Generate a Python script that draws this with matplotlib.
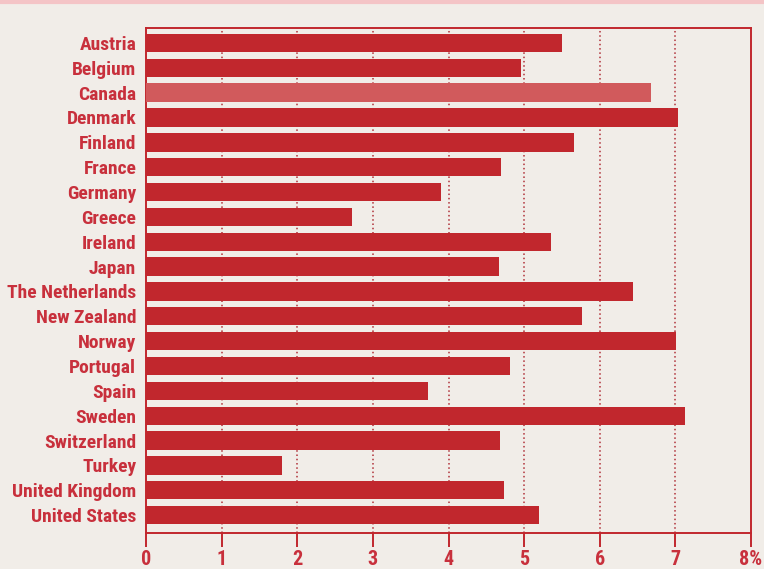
import matplotlib
matplotlib.use("Agg")
import matplotlib.pyplot as plt
import numpy as np


# Data

countries = ["Austria", "Belgium", "Canada", "Denmark", "Finland", "France",
             "Germany", "Greece", "Ireland", "Japan", "The Netherlands",
             "New Zealand", "Norway", "Portugal", "Spain", "Sweden",
             "Switzerland", "Turkey", "United Kingdom", "United States"]
values = [5.50, 4.96, 6.68, 7.04, 5.66, 4.70, 3.90, 2.72, 5.36, 4.67,
          6.44, 5.77, 7.01, 4.81, 3.73, 7.13, 4.68, 1.80, 4.74, 5.20]
highlight = "Canada"
xticks = [0, 1, 2, 3, 4, 5, 6, 7, 8]
xticklabels = ["0", "1", "2", "3", "4", "5", "6", "7", "8%"]


# Style

bg = "#f1ede8"
red = "#c1272d"
red_light = "#d15a5c"
txt = "#c8303c"
font = ["Roboto Condensed", "Liberation Sans Narrow", "DejaVu Sans"]


# Plot

fig = plt.figure(figsize=(7.64, 5.69), dpi=100, facecolor=bg)
ax = fig.add_axes([146/764, 1 - 533/569, 605/764, 505/569])
ax.set_facecolor(bg)

y = np.arange(len(countries))
colors = [red_light if c == highlight else red for c in countries]
ax.barh(y, values, height=0.74, color=colors, zorder=3)

ax.set_xlim(0, 8)
ax.set_ylim(19.72, -0.6)

for v in xticks[1:-1]:
    ax.axvline(v, color="#b03038", lw=1.1, ls=(0, (1, 1.8)), zorder=2)

ax.set_xticks(xticks)
ax.set_xticklabels(xticklabels, fontfamily=font, fontweight="bold",
                   fontsize=14.5, color=txt)
ax.set_yticks(y)
ax.set_yticklabels(countries, fontfamily=font, fontweight="bold",
                   fontsize=14, color=txt)

ax.tick_params(axis="x", direction="out", length=10, width=1.4,
               color=red, pad=2)
ax.tick_params(axis="y", length=0, pad=7)

for s in ax.spines.values():
    s.set_color(red)
    s.set_linewidth(1.4)

# thin pink band along the top edge
fig.add_artist(plt.Line2D([0, 1], [1 - 1.5/569, 1 - 1.5/569],
                          color="#f4c4c6", lw=3, transform=fig.transFigure))

fig.savefig("out.png", dpi=100, facecolor=bg)
